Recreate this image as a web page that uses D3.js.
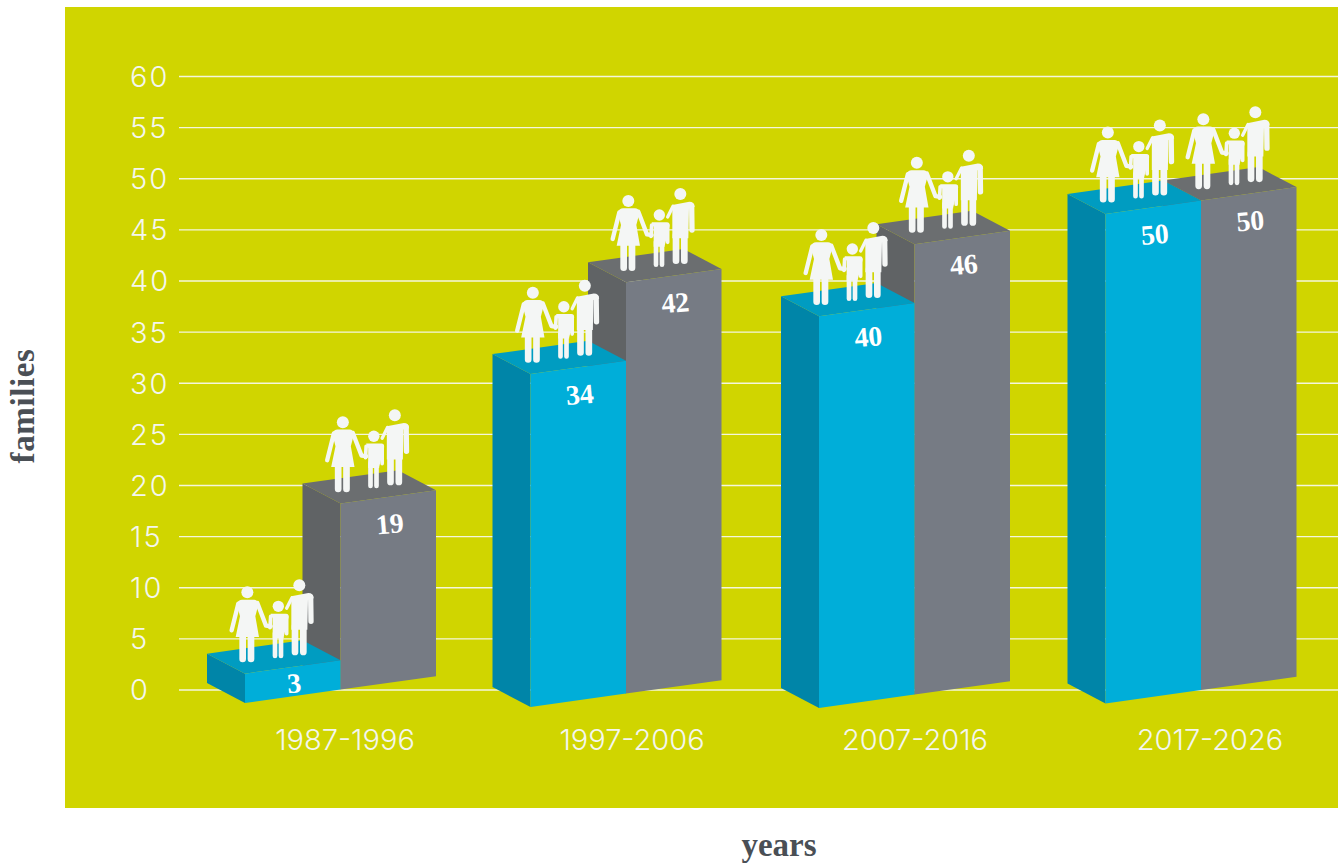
<!DOCTYPE html>
<html><head><meta charset="utf-8">
<script src="https://cdn.jsdelivr.net/npm/d3@7"></script>
<style>
html,body{margin:0;padding:0;background:#fff;overflow:hidden}
svg{display:block}
.t{font-family:Inter,"Open Sans",sans-serif;font-weight:300;fill:#f4f6ee}
.s{font-family:"Liberation Serif",serif;font-weight:700}
</style></head><body><svg id="c" width="1338" height="863"></svg>
<script>
const categories=["1987-1996","1997-2006","2007-2016","2017-2026"];
const blueValues=[3,34,40,50];
const greyValues=[19,42,46,50];
const yTicks=d3.range(0,61,5);

const svg=d3.select("#c");
const W=95.5,DX=-38,DY=-20,SL=-13.4;
const x=d3.scaleOrdinal(categories,[245,530.5,819,1105.5]);
const base=d3.scaleOrdinal(categories,[703,707,708,703.5]);
const labelX=d3.scaleOrdinal(categories,[345,632,915,1210]);
const y=d3.scaleLinear([0,60],[689.5,76]);
const h=d3.scaleLinear([0,60],[0,587.5]);

svg.append("rect").attr("x",65).attr("y",7).attr("width",1273).attr("height",801).attr("fill","#d0d500");

const ax=svg.append("g").attr("transform","translate(179,0)")
  .call(d3.axisLeft(y).tickValues(yTicks).tickSize(-1159).tickFormat(d3.format("d")));
ax.select(".domain").remove();
ax.selectAll(".tick line").attr("stroke","#f4f6dc").attr("stroke-width",1.3);
ax.selectAll(".tick text").attr("class","t").attr("text-anchor","start").attr("x",-49).attr("dy","0.36em").style("font-size","29px").style("letter-spacing","2px");

const pal={blue:{f:"#00aed9",l:"#0085a8",t:"#009cc1"},grey:{f:"#767b84",l:"#606365",t:"#6b6e70"}};
const pts=a=>a.map(p=>p.join(",")).join(" ");

function family(g){
  const ic="#f4f6f5";
  const f=g.append("g").attr("transform","scale(0.3333) translate(-195,-822)").attr("fill",ic).attr("stroke",ic).attr("stroke-linecap","round").attr("stroke-linejoin","round");
  // woman
  f.append("circle").attr("cx",202).attr("cy",578).attr("r",18).attr("stroke","none");
  f.append("path").attr("stroke","none").attr("d","M186 600L222 600Q232 600 236 612L226 650L237 712L167 712L180 650L170 612Q176 600 186 600Z");
  f.append("path").attr("fill","none").attr("stroke-width",13).attr("d","M175 612L155 692M232 610L258 678L272 680");
  f.append("path").attr("fill","none").attr("stroke-width",20).attr("d","M188 705L188 778M213 705L213 778");
  // child
  f.append("circle").attr("cx",295).attr("cy",620).attr("r",17).attr("stroke","none");
  f.append("path").attr("stroke","none").attr("d","M272 642L318 642Q326 642 326 652L311 712L311 715L278 715L278 655Q272 650 272 642Z");
  f.append("path").attr("fill","none").attr("stroke-width",11).attr("d","M272 650L270 684M320 650L320 702");
  f.append("path").attr("fill","none").attr("stroke-width",14).attr("d","M285 700L285 769M303 700L303 769");
  // man
  f.append("circle").attr("cx",358).attr("cy",557).attr("r",18).attr("stroke","none");
  f.append("path").attr("stroke","none").attr("d","M334 590L385 580Q400 580 401 596L384 600L382 690L334 690Z");
  f.append("path").attr("fill","none").attr("stroke-width",16).attr("d","M392 592L393 665");
  f.append("path").attr("fill","none").attr("stroke-width",10).attr("d","M336 594L320 626");
  f.append("path").attr("fill","none").attr("stroke-width",20).attr("d","M345 680L345 757M370 680L370 757");
}

function bar(parent,x0,yb,val,c){
  const H=h(val);
  const yt=yb-H;
  const g=parent.append("g");
  g.append("polygon").attr("points",pts([[x0,yt],[x0+DX,yt+DY],[x0+DX,yb+DY],[x0,yb]])).attr("fill",c.l);
  g.append("polygon").attr("points",pts([[x0,yt],[x0+W,yt+SL],[x0+W+DX,yt+SL+DY],[x0+DX,yt+DY]])).attr("fill",c.t);
  g.append("polygon").attr("points",pts([[x0,yt],[x0+W,yt+SL],[x0+W,yb+SL],[x0,yb]])).attr("fill",c.f);
  return {yt,g,H};
}

categories.forEach((cat,i)=>{
  const g=svg.append("g");
  const x0=x(cat),yb=base(cat);
  const b2=bar(g,x0+W,yb+SL,greyValues[i],pal.grey);
  const b1=bar(g,x0,yb,blueValues[i],pal.blue);
  [[b2,x0+W,greyValues[i]],[b1,x0,blueValues[i]]].forEach(([b,xx,v])=>{
    const cx=xx+W/2+1.5, cy=b.yt+SL/2+Math.min(27,b.H*0.55);
    g.append("text").attr("class","s").attr("text-anchor","middle").attr("dy","0.34em")
      .attr("transform",`translate(${cx},${cy}) rotate(-5)`).attr("fill","#fff").style("font-size","28px").text(v);
  });
  family(g.append("g").attr("transform",`translate(${x0+W},${b2.yt})`));
  family(g.append("g").attr("transform",`translate(${x0},${b1.yt})`));
  svg.append("text").attr("class","t").attr("x",labelX(cat)).attr("y",750).attr("text-anchor","middle").style("font-size","29px").text(cat);
});

svg.append("text").attr("class","s").attr("fill","#4a4f55").attr("text-anchor","middle").style("font-size","33px").style("letter-spacing","0.6px")
  .attr("transform","translate(34,406) rotate(-90)").text("families");
svg.append("text").attr("class","s").attr("fill","#4a4f55").attr("text-anchor","middle").style("font-size","33px")
  .attr("x",779).attr("y",856).text("years");
</script></body></html>
